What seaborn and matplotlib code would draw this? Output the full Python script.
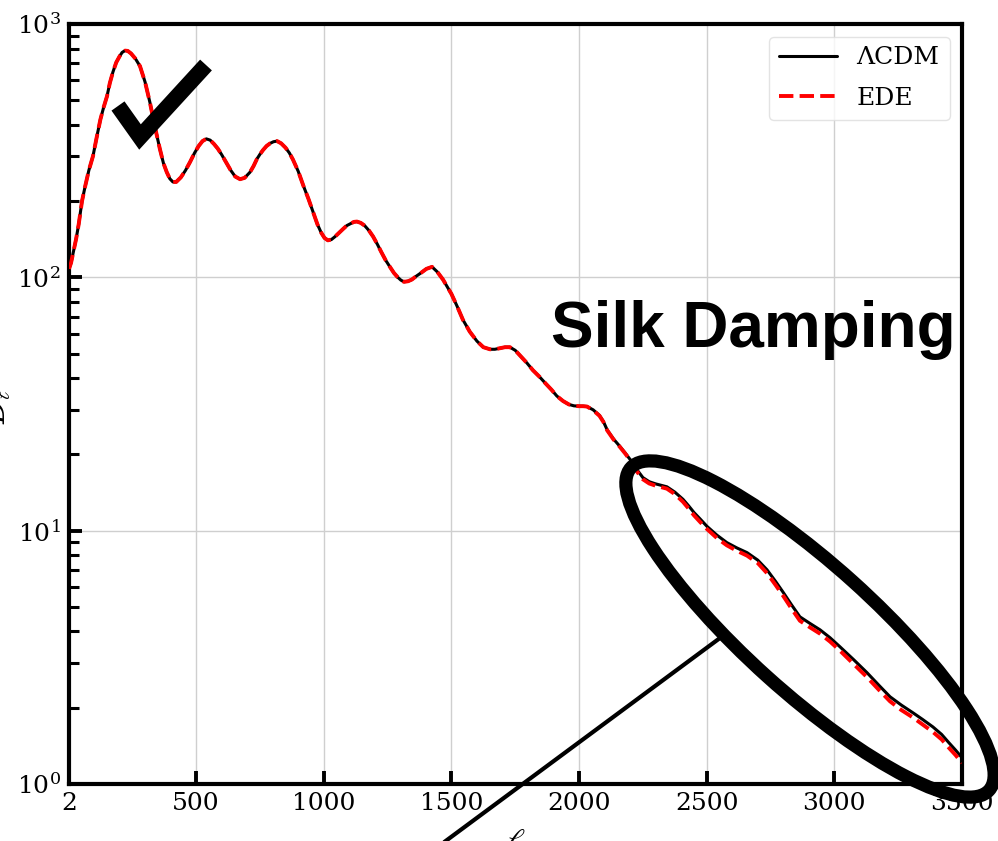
import numpy as np
import pandas as pd
import matplotlib
matplotlib.use("Agg")
import matplotlib.pyplot as plt
import seaborn as sns
from matplotlib.lines import Line2D
from matplotlib.patches import Ellipse
from matplotlib.transforms import IdentityTransform
from matplotlib.ticker import FixedLocator, LogLocator, NullFormatter

# ---------------- data ----------------
# multipoles shared by both models
ell = [2, 10, 20, 30, 40, 53, 65, 80, 96, 110, 125, 138, 151, 162, 174, 187, 200, 210, 221, 232,
       245, 262, 280, 300, 319, 338, 358, 372, 385, 397, 409, 422, 440, 458, 476, 494, 510, 525, 540, 555,
       570, 585, 600, 618, 635, 653, 672, 690, 711, 725, 738, 750, 762, 776, 790, 803, 817, 833, 850, 865,
       879, 900, 920, 940, 958, 975, 990, 1003, 1016, 1030, 1045, 1060, 1075, 1090, 1105, 1118, 1130, 1145, 1160, 1177,
       1193, 1210, 1225, 1242, 1259, 1275, 1290, 1302, 1314, 1330, 1345, 1362, 1380, 1402, 1424, 1445, 1467, 1483, 1500, 1522,
       1545, 1572, 1600, 1625, 1651, 1670, 1690, 1710, 1729, 1750, 1770, 1795, 1819, 1845, 1870, 1892, 1913, 1937, 1960, 1980,
       2000, 2016, 2031,
       2055, 2080, 2095, 2110, 2135, 2160, 2180, 2200, 2225, 2250, 2275, 2300, 2322, 2344, 2375, 2407, 2430, 2450, 2475, 2501,
       2540, 2579, 2618, 2658, 2700, 2736, 2770, 2800, 2832, 2865, 2905, 2944, 2983, 3022, 3075, 3128, 3175, 3218, 3262, 3308,
       3345, 3386, 3420, 3450, 3475, 3500]

# low-ell part, identical for both models (l <= 2031)
D_common = [108, 114, 127, 142, 162, 200, 228, 265, 301, 355, 420, 470, 519, 585, 646, 705, 745, 772, 785, 783,
            765, 730, 682, 590, 490, 395, 321, 282, 260, 245, 238, 238, 248, 264, 285, 310, 330, 345, 352, 348,
            336, 322, 305, 284, 265, 250, 244, 247, 260, 275, 293, 306, 318, 330, 338, 343, 345, 338, 325, 310,
            292, 262, 230, 204, 181, 162, 150, 143, 140, 141, 145, 150, 155, 160, 163, 165.5, 166, 164, 160, 153,
            145, 135, 126, 117, 110, 104, 100, 97.5, 96, 96.5, 98, 101, 104, 108, 110, 105, 98, 92, 86, 77,
            68, 61, 56, 53, 52, 52, 52.5, 53, 53, 51.5, 49, 46, 43, 40.5, 38, 36, 34, 32.5, 31.5, 31.1,
            31, 31, 30.9]

# damping tail (l > 2031)
D_lcdm_tail = [30, 28.5, 27, 25, 23, 21.5, 20.3, 19.1, 17.5, 16.2, 15.6, 15.3, 15.1, 14.9, 14.2, 13.3, 12.5, 11.8, 11.1, 10.4,
               9.6, 8.97, 8.55, 8.19, 7.65, 7.01, 6.3, 5.7, 5.1, 4.57, 4.3, 4.06, 3.78, 3.48, 3.1, 2.75, 2.45, 2.21, 2.05, 1.91,
               1.80, 1.68, 1.57, 1.45, 1.36, 1.27]
D_ede_tail = [29.9, 28.4, 26.9, 24.9, 22.9, 21.4, 20.2, 19.0, 17.2, 15.95, 15.35, 15.05, 14.85, 14.65, 13.95, 13.0, 12.2, 11.5, 10.8, 10.15,
              9.35, 8.75, 8.33, 7.97, 7.45, 6.80, 6.10, 5.52, 4.93, 4.41, 4.15, 3.92, 3.65, 3.36, 2.98, 2.64, 2.35, 2.12, 1.96, 1.83,
              1.72, 1.605, 1.50, 1.385, 1.30, 1.21]

D_lcdm = D_common + D_lcdm_tail
D_ede = D_common + D_ede_tail
assert len(ell) == len(D_lcdm) == len(D_ede)

model_names = ["ΛCDM", "EDE"]
xtick_vals = [2, 500, 1000, 1500, 2000, 2500, 3000, 3500]
xtick_labels = ["2", "500", "1000", "1500", "2000", "2500", "3000", "3500"]
ytick_vals = [1, 10, 100, 1000]
ytick_labels = [r"$10^{0}$", r"$10^{1}$", r"$10^{2}$", r"$10^{3}$"]

df = pd.DataFrame({
    "ell": ell + ell,
    "D": D_lcdm + D_ede,
    "model": [model_names[0]] * len(ell) + [model_names[1]] * len(ell),
})

# ---------------- style ----------------
sns.set_theme(style="ticks")
plt.rcParams["font.family"] = ["DejaVu Serif", "DejaVu Sans"]
plt.rcParams["mathtext.fontset"] = "dejavuserif"
plt.rcParams["text.color"] = "black"
plt.rcParams["axes.labelcolor"] = "black"
plt.rcParams["xtick.color"] = "black"
plt.rcParams["ytick.color"] = "black"

W, H = 998, 841
fig = plt.figure(figsize=(W / 100, H / 100), dpi=100)
ax = fig.add_axes([69 / W, 1 - 784 / H, (962 - 69) / W, (784 - 24) / H])

sns.lineplot(data=df[df.model == model_names[0]], x="ell", y="D", ax=ax,
             color="black", lw=2.2, label=model_names[0], sort=False, zorder=3)
sns.lineplot(data=df[df.model == model_names[1]], x="ell", y="D", ax=ax,
             color="red", lw=2.8, linestyle="--", label=model_names[1],
             sort=False, zorder=4)

ax.set_yscale("log")
ax.set_xlim(2, 3500)
ax.set_ylim(1, 1000)
ax.set_xticks(xtick_vals)
ax.set_xticklabels(xtick_labels)
ax.yaxis.set_major_locator(FixedLocator(ytick_vals))
ax.set_yticklabels(ytick_labels)
ax.yaxis.set_minor_locator(LogLocator(base=10, subs=np.arange(2, 10)))
ax.yaxis.set_minor_formatter(NullFormatter())

ax.grid(True, which="major", color="#cfcfcf", lw=1.0)
for s in ax.spines.values():
    s.set_linewidth(3.0)
    s.set_color("black")
ax.tick_params(axis="both", which="major", direction="in", length=9.5,
               width=2.8, labelsize=18, pad=6, color="black", labelcolor="black")
ax.tick_params(axis="y", which="minor", direction="in", length=7, width=2.2)
ax.tick_params(top=False, right=False)

ax.set_xlabel(r"$\ell$", fontsize=22)
ax.set_ylabel(r"$D_\ell$", fontsize=22)
ax.xaxis.set_label_coords(0.5, -(826 - 784) / 760)
ax.yaxis.set_label_coords((13 - 69) / 893, 0.5)

leg = ax.legend(loc="upper right", fontsize=18, handlelength=2.3,
                borderpad=0.4, handletextpad=0.8, labelspacing=0.7,
                framealpha=0.8, fancybox=True)
leg.get_frame().set_edgecolor("#dddddd")

# ---------------- annotations (figure pixel space) ----------------
def fx(px):
    return px / W

def fy(py):
    return 1 - py / H

check = Line2D([fx(118), fx(140), fx(206)], [fy(106), fy(137), fy(65)],
               transform=fig.transFigure, color="black", lw=11.5,
               solid_joinstyle="miter", solid_capstyle="butt", zorder=10)
fig.add_artist(check)

pointer = Line2D([fx(720), fx(420)], [fy(638), fy(860)],
                 transform=fig.transFigure, color="black", lw=3.0, zorder=10)
fig.add_artist(pointer)

ell_patch = Ellipse((810, H - 629), width=482, height=128, angle=-42,
                    transform=IdentityTransform(), fill=False,
                    edgecolor="black", lw=9.5, zorder=11)
fig.add_artist(ell_patch)

fig.text(fx(551), fy(347), "Silk Damping", fontsize=46, fontweight="bold",
         family="Liberation Sans", color="black", va="baseline", ha="left",
         zorder=12)

fig.savefig("out.png", dpi=100)
